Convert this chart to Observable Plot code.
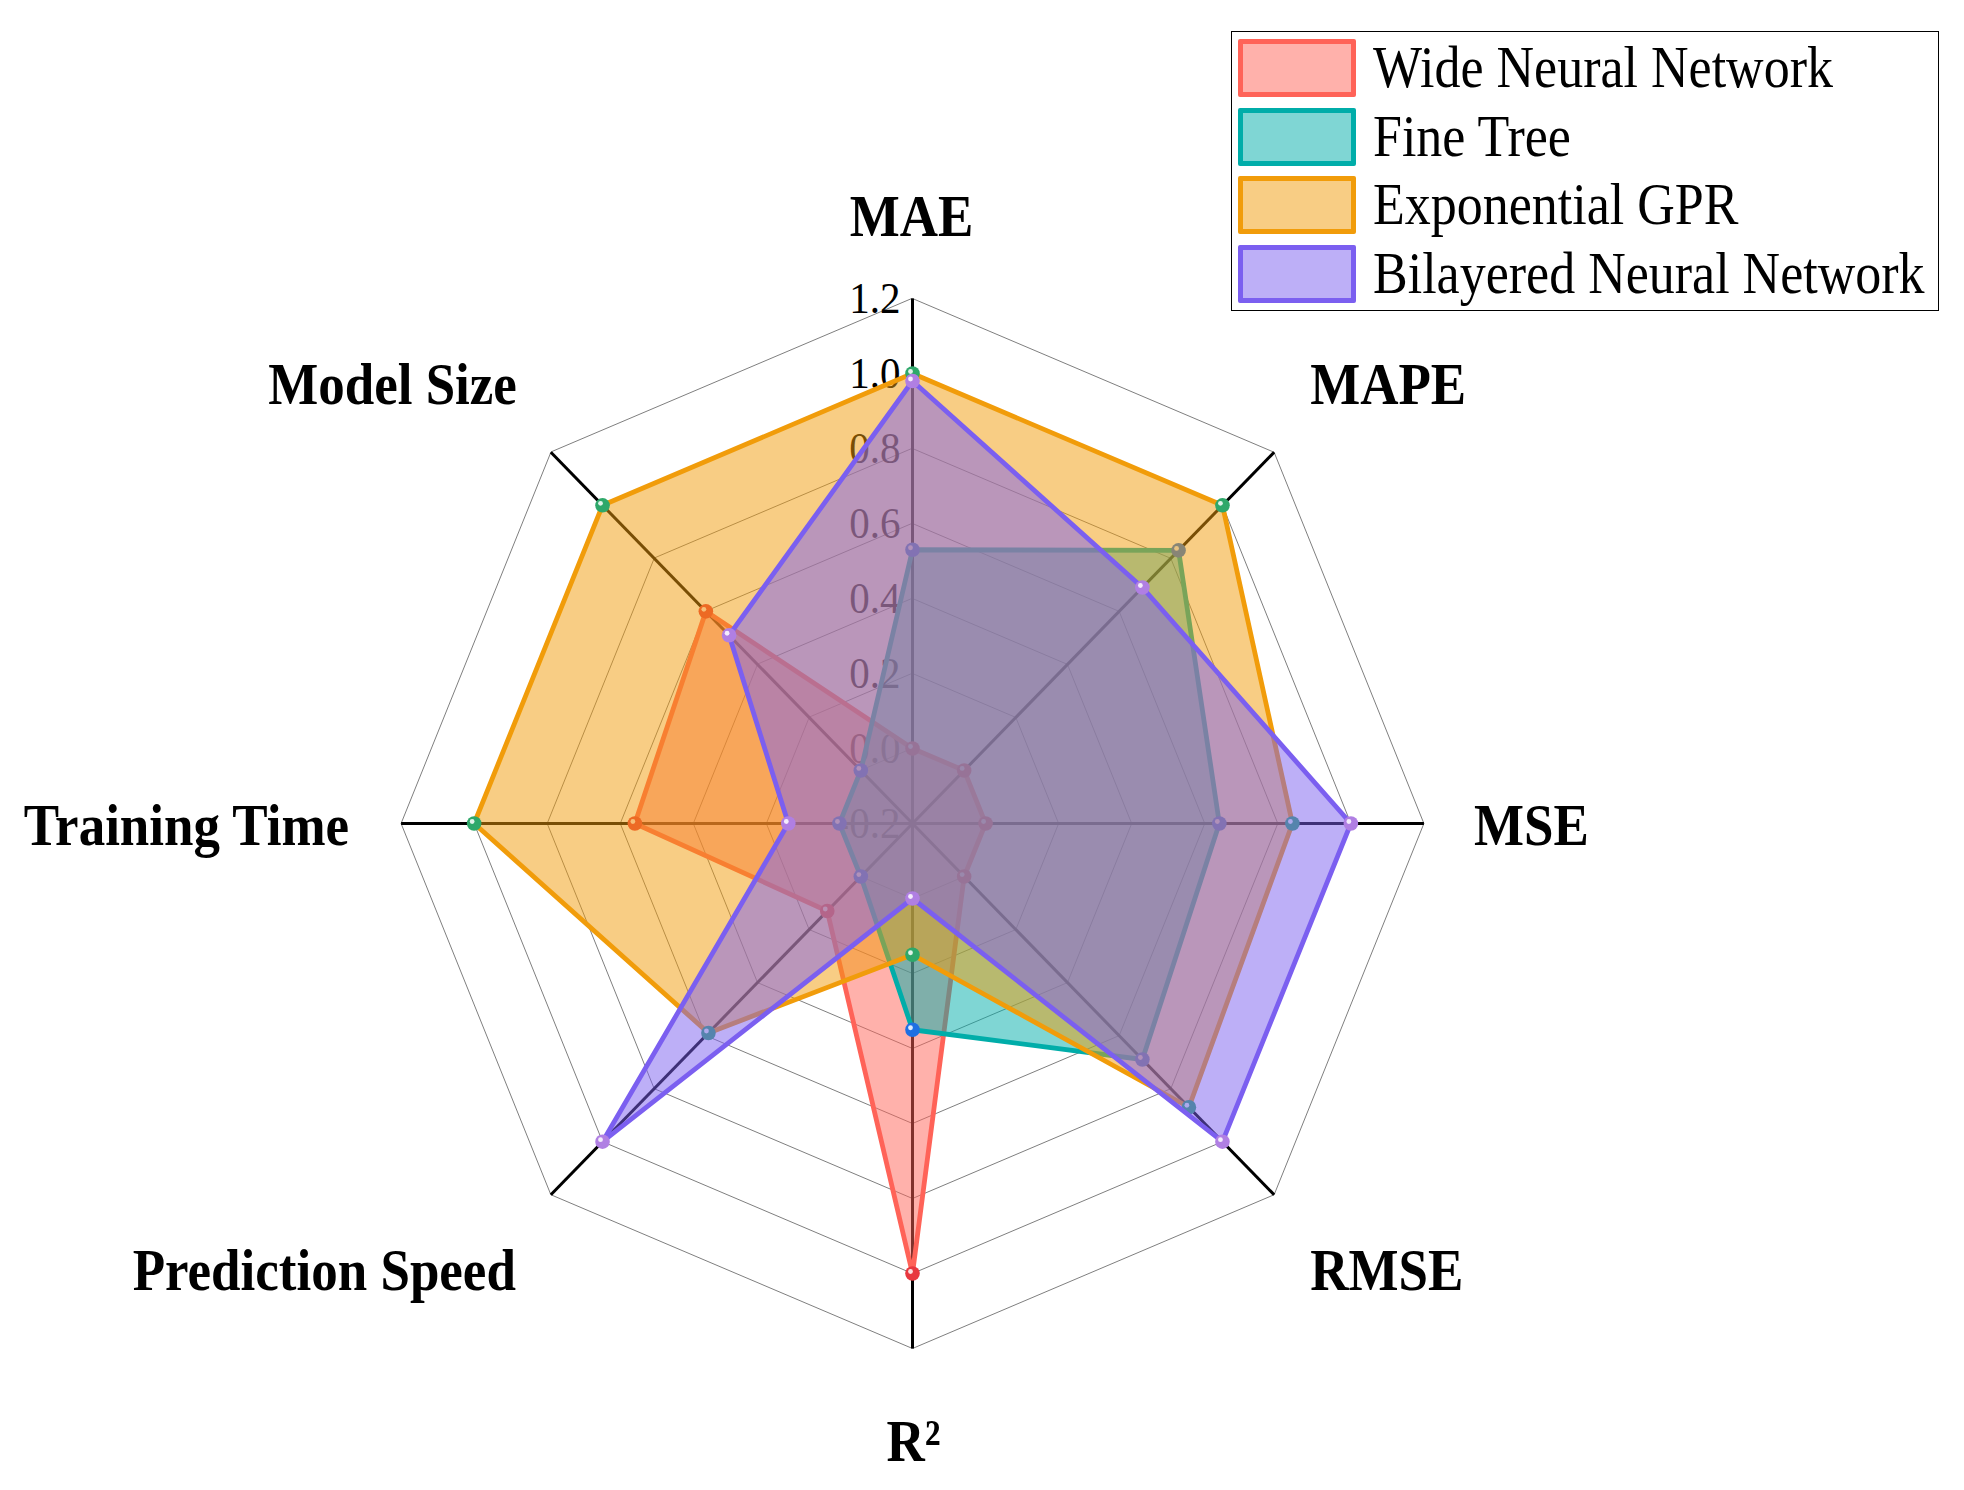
<!DOCTYPE html>
<html>
<head>
<meta charset="utf-8">
<script src="https://cdn.jsdelivr.net/npm/d3@7"></script>
<script src="https://cdn.jsdelivr.net/npm/@observablehq/plot@0.6"></script>
<style>
  html, body { margin: 0; padding: 0; background: #fff; }
  #wrap { position: relative; width: 1964px; height: 1490px; overflow: hidden; }
  #legend { position: absolute; left: 1231px; top: 31px; width: 706px; height: 278px;
            border: 1.5px solid #000; background: #fff;
            font-family: "Liberation Serif", "Times New Roman", serif; }
  .row { position: absolute; left: 6px; height: 58px; width: 690px; }
  .sw { position: absolute; left: 0; top: 0; width: 108px; height: 48px; border: 5px solid; border-radius: 2px; }
  .lab { position: absolute; left: 135px; top: 0; height: 58px; line-height: 58px; font-size: 52px;
         white-space: nowrap; color: #000; transform: scaleY(1.12); transform-origin: left center; }
</style>
</head>
<body>
<div id="wrap"><div id="chart"></div><div id="legend"></div></div>
<script>
// ---------------- data ----------------
const axes = ["MAE", "MAPE", "MSE", "RMSE", "R²", "Prediction Speed", "Training Time", "Model Size"];
const ticks = [-0.2, 0.0, 0.2, 0.4, 0.6, 0.8, 1.0, 1.2];
const seriesNames = ["Wide Neural Network", "Fine Tree", "Exponential GPR", "Bilayered Neural Network"];
const wideNeuralNetwork      = [0.00, 0.00, 0.00, 0.00, 1.00, 0.13, 0.56, 0.60];
const fineTree               = [0.53, 0.83, 0.64, 0.69, 0.35, 0.00, 0.00, 0.00];
const exponentialGPR         = [1.00, 1.00, 0.84, 0.87, 0.15, 0.59, 1.00, 1.00];
const bilayeredNeuralNetwork = [0.98, 0.69, 1.00, 1.00, 0.00, 1.00, 0.14, 0.51];
const seriesValues = [wideNeuralNetwork, fineTree, exponentialGPR, bilayeredNeuralNetwork];

// ---------------- styles ----------------
const strokeColors = ["#FF6358", "#00ADA9", "#F19C0A", "#7B5FF0"];
const markerColors = ["#E8383F", "#1F6FE3", "#2EA86A", "#B07FE3"];
const FONT = '"Liberation Serif", "Times New Roman", serif';

// ---------------- geometry helpers ----------------
const W = 1964, H = 1490;
const CX = 912, CY = 823, KX = 365.3, KY = 375;   // centre (px) and px per unit
const rMin = ticks[0];
const n = axes.length;
const ang = (i) => (i * 2 * Math.PI) / n;
const rad = (v) => v - rMin;
const px = (i, v) => rad(v) * Math.sin(ang(i));
const py = (i, v) => rad(v) * Math.cos(ang(i));

const rows = [];
seriesValues.forEach((vals, s) => vals.forEach((v, i) => rows.push({s, i, v})));

const gridRows = [];
ticks.slice(1).forEach((t) => axes.forEach((a, i) => gridRows.push({t, i})));

const marks = [];
// grid octagons
marks.push(Plot.line(gridRows, {
  x: (d) => px(d.i, d.t), y: (d) => py(d.i, d.t), z: "t",
  curve: "linear-closed", stroke: "#7f7f7f", strokeWidth: 1
}));
// axis spokes
const rMax = ticks[ticks.length - 1];
marks.push(Plot.link(axes, {
  x1: (d, i) => px(i, rMin), y1: (d, i) => py(i, rMin),
  x2: (d, i) => px(i, rMax), y2: (d, i) => py(i, rMax),
  stroke: "#000", strokeWidth: 3
}));
// tick labels along the MAE axis
marks.push(Plot.text(ticks, {
  x: (d) => px(0, d), y: (d) => py(0, d),
  text: (d) => d3.format(".1f")(d).replace("−", "-"),
  textAnchor: "end", dx: -12, fontSize: 41, fill: "#000"
}));
// series
seriesValues.forEach((vals, s) => {
  const data = rows.filter((d) => d.s === s);
  marks.push(Plot.area(data, {
    x1: (d) => px(d.i, rMin), y1: (d) => py(d.i, rMin),
    x2: (d) => px(d.i, d.v), y2: (d) => py(d.i, d.v),
    curve: "linear-closed", fill: strokeColors[s], fillOpacity: 0.5
  }));
  marks.push(Plot.line(data, {
    x: (d) => px(d.i, d.v), y: (d) => py(d.i, d.v),
    curve: "linear-closed", stroke: strokeColors[s], strokeWidth: 4.8, strokeLinejoin: "miter"
  }));
  marks.push(Plot.dot(data, {
    x: (d) => px(d.i, d.v), y: (d) => py(d.i, d.v),
    r: 7.3, fill: markerColors[s], stroke: "none"
  }));
  marks.push(Plot.dot(data, {
    x: (d) => px(d.i, d.v), y: (d) => py(d.i, d.v),
    r: 2.4, dx: -2, dy: -2, fill: "#fff", fillOpacity: 0.85, stroke: "none"
  }));
});
// axis titles
const labelAnchor = ["middle", "start", "start", "start", "middle", "end", "end", "end"];
const labelDx = [-1, 36, 50, 36, 1, -35, -52, -34];
const labelDy = [-81, -67, 3, 77, 94, 77, 3, -67];
axes.forEach((a, i) => {
  marks.push(Plot.text([a], {
    x: () => px(i, rMax), y: () => py(i, rMax), text: (d) => d,
    textAnchor: labelAnchor[i], dx: labelDx[i], dy: labelDy[i],
    fontSize: 53, fontWeight: "bold", fill: "#000"
  }));
});

const chart = Plot.plot({
  width: W, height: H, margin: 0,
  x: {domain: [-CX / KX, (W - CX) / KX], axis: null},
  y: {domain: [-(H - CY) / KY, CY / KY], axis: null},
  style: {fontFamily: FONT, background: "white", color: "#000", overflow: "visible"},
  marks
});
chart.querySelectorAll("text").forEach((t) => {
  const tr = t.getAttribute("transform");
  if (tr && tr.includes("translate")) t.setAttribute("transform", tr + " scale(1,1.1)");
});
document.getElementById("chart").appendChild(chart);

// ---------------- legend ----------------
const legend = document.getElementById("legend");
seriesNames.forEach((name, s) => {
  const row = document.createElement("div");
  row.className = "row";
  row.style.top = (7 + s * 68.5) + "px";
  const sw = document.createElement("div");
  sw.className = "sw";
  sw.style.borderColor = strokeColors[s];
  const c = d3.color(strokeColors[s]); c.opacity = 0.5;
  sw.style.background = c.formatRgb();
  const lab = document.createElement("div");
  lab.className = "lab";
  lab.textContent = name;
  row.appendChild(sw); row.appendChild(lab);
  legend.appendChild(row);
});
</script>
</body>
</html>
